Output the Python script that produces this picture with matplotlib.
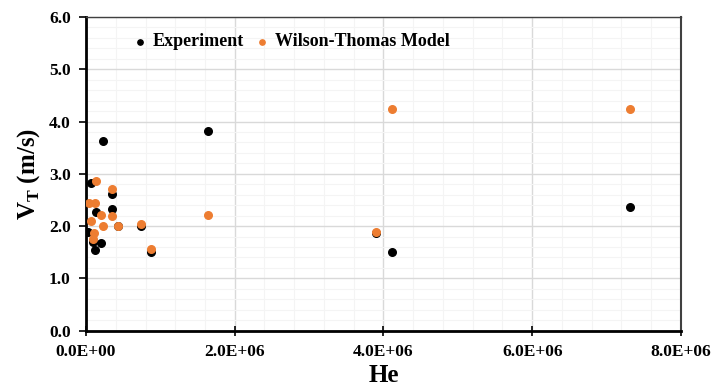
import matplotlib
matplotlib.use('Agg')
import matplotlib.pyplot as plt
from matplotlib.ticker import MultipleLocator, FuncFormatter

# ── data ─────────────────────────────────────────────────────────────────────
exp_he = [0.067e6, 0.354e6, 0.135e6, 0.346e6, 0.031e6, 0.098e6, 0.198e6,
          0.121e6, 0.427e6, 0.741e6, 0.871e6, 0.233e6, 1.634e6, 3.90e6,
          4.108e6, 7.31e6]
exp_vt = [2.82, 2.615, 2.265, 2.334, 1.894, 1.702, 1.672,
          1.544, 2.003, 2.008, 1.511, 3.63, 3.826, 1.87,
          1.505, 2.372]

wt_he = [0.135e6, 0.354e6, 0.040e6, 0.121e6, 0.198e6, 0.346e6, 0.071e6,
         0.233e6, 0.427e6, 0.741e6, 0.108e6, 0.090e6, 0.871e6, 1.634e6,
         3.90e6, 4.108e6, 7.31e6]
wt_vt = [2.863, 2.716, 2.437, 2.437, 2.213, 2.20, 2.104,
         2.003, 2.008, 2.035, 1.863, 1.748, 1.557, 2.207,
         1.882, 4.246, 4.246]

plt.rcParams['font.family'] = ['Liberation Serif', 'DejaVu Serif']
plt.rcParams['font.weight'] = 'bold'

fig = plt.figure(figsize=(7.27, 3.92), dpi=100)
ax = fig.add_axes([0.1183, 0.1564, 0.8184, 0.8002])

ax.scatter(exp_he, exp_vt, s=30, color='black', zorder=3, label='Experiment')
ax.scatter(wt_he, wt_vt, s=30, color='#ED7D31', zorder=4,
           label='Wilson-Thomas Model')

ax.set_xlim(0, 8e6)
ax.set_ylim(0, 6)
ax.xaxis.set_major_locator(MultipleLocator(2e6))
ax.xaxis.set_minor_locator(MultipleLocator(0.4e6))
ax.yaxis.set_major_locator(MultipleLocator(1.0))
ax.yaxis.set_minor_locator(MultipleLocator(0.2))
ax.xaxis.set_major_formatter(FuncFormatter(lambda v, p: f'{v:.1E}'))
ax.yaxis.set_major_formatter(FuncFormatter(lambda v, p: f'{v:.1f}'))

ax.grid(which='major', color='#d9d9d9', lw=1.0, zorder=0)
ax.grid(which='minor', color='#f4f4f4', lw=0.8, zorder=0)
ax.set_axisbelow(True)

for side in ('left', 'bottom'):
    ax.spines[side].set_linewidth(2.0)
    ax.spines[side].set_color('black')
ax.spines['right'].set_color('#404040')
ax.spines['right'].set_linewidth(1.5)
ax.spines['top'].set_color('#404040')
ax.spines['top'].set_linewidth(1.0)

ax.tick_params(axis='x', which='major', direction='inout', length=7, width=1.2,
               labelsize=12.5, pad=6)
ax.tick_params(axis='y', which='major', direction='out', length=5, width=1.2,
               labelsize=12.5, pad=6)
ax.tick_params(which='minor', length=0)
for lab in ax.get_xticklabels() + ax.get_yticklabels():
    lab.set_fontweight('bold')

ax.set_xlabel('He', fontsize=18, fontweight='bold', labelpad=3)
ax.set_ylabel(r'V$_\mathregular{T}$ (m/s)', fontsize=18, fontweight='bold',
              labelpad=5)

leg = ax.legend(loc='upper left', bbox_to_anchor=(0.052, 1.0), ncol=2,
                frameon=False, fontsize=13, markerscale=0.7,
                handlelength=0.8, handletextpad=0.3, columnspacing=0.6)
for t in leg.get_texts():
    t.set_fontweight('bold')

fig.savefig('out.png', dpi=100)
